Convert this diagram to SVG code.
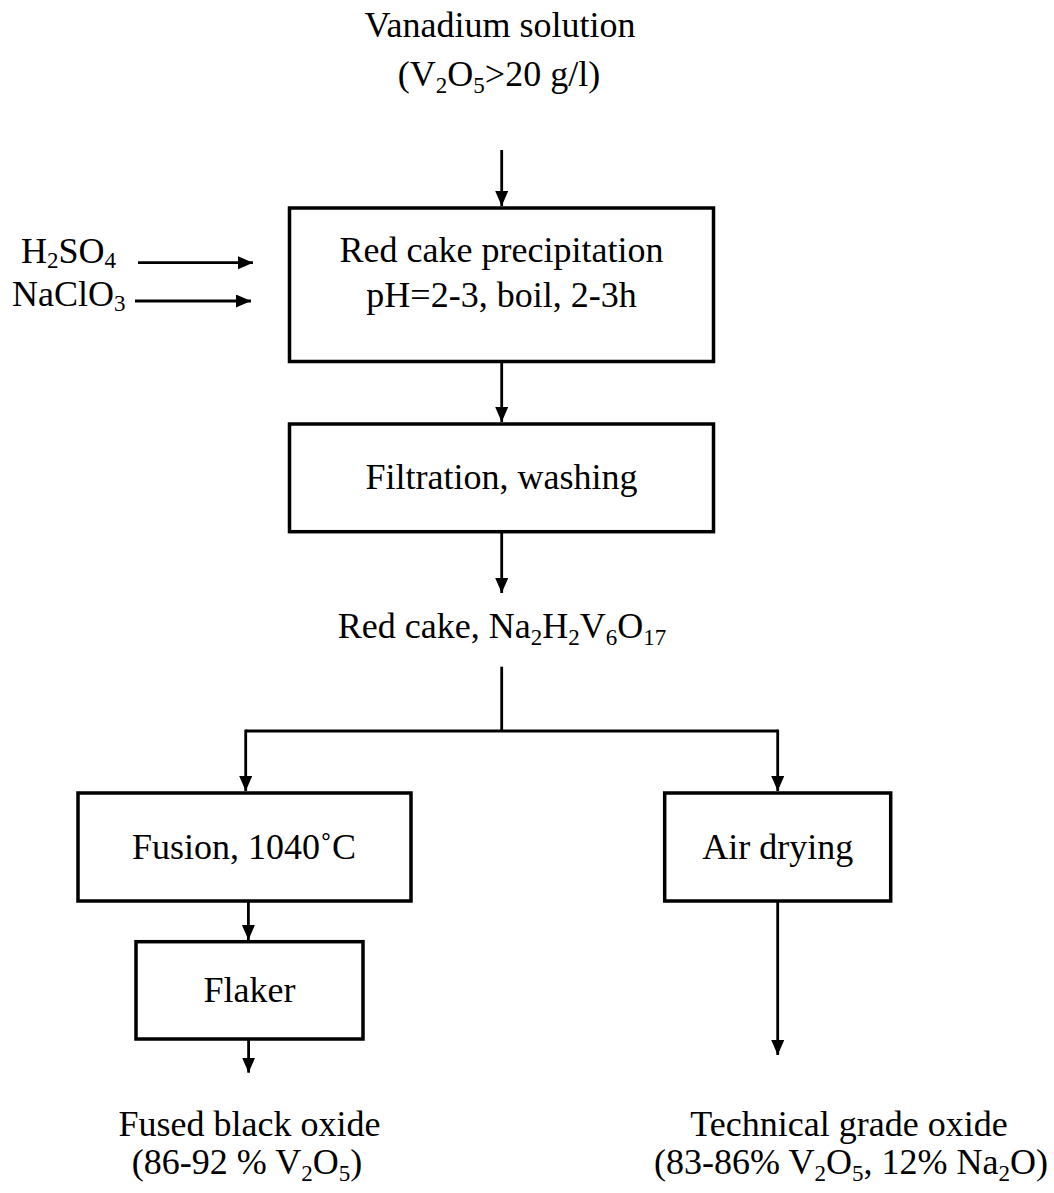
<svg xmlns="http://www.w3.org/2000/svg" width="1054" height="1193" viewBox="0 0 1054 1193">
  <style>
    text { font-family: "Liberation Serif", "Times New Roman", serif; font-size: 36px; fill: #000; }
    .c { text-anchor: middle; }
    .sub { font-size: 23px; }
    .box { fill: #fff; stroke: #000; stroke-width: 3.5; }
    .wire { fill: none; stroke: #000; stroke-width: 2.8; }
  </style>
  <defs>
    <marker id="head" markerUnits="userSpaceOnUse" markerWidth="16" markerHeight="14" refX="15" refY="6.5" orient="auto">
      <path d="M0,0 L15,6.5 L0,13 z" fill="#000"/>
    </marker>
  </defs>

  <!-- feed solution -->
  <g id="feed">
    <text class="c" x="500" y="37">Vanadium solution</text>
    <text class="c" x="499" y="86">(V<tspan class="sub" dy="7">2</tspan><tspan dy="-7">O</tspan><tspan class="sub" dy="7">5</tspan><tspan dy="-7">&gt;20 g/l)</tspan></text>
  </g>

  <!-- reagents -->
  <g id="reagents">
    <text x="21" y="263">H<tspan class="sub" dy="5">2</tspan><tspan dy="-5">SO</tspan><tspan class="sub" dy="5">4</tspan></text>
    <text x="12" y="306">NaClO<tspan class="sub" dy="5">3</tspan></text>
  </g>

  <g id="precipitation">
    <rect class="box" x="289.5" y="208" width="424" height="153.5"/>
    <text class="c" x="501.5" y="262">Red cake precipitation</text>
    <text class="c" x="501.5" y="307">pH=2-3, boil, 2-3h</text>
  </g>

  <g id="filtration">
    <rect class="box" x="289.5" y="424" width="424" height="107.7"/>
    <text class="c" x="501.5" y="489">Filtration, washing</text>
  </g>

  <g id="red-cake">
    <text class="c" x="502" y="638">Red cake, Na<tspan class="sub" dy="7">2</tspan><tspan dy="-7">H</tspan><tspan class="sub" dy="7">2</tspan><tspan dy="-7">V</tspan><tspan class="sub" dy="7">6</tspan><tspan dy="-7">O</tspan><tspan class="sub" dy="7">17</tspan></text>
  </g>

  <g id="fusion">
    <rect class="box" x="78" y="793" width="333" height="108"/>
    <text class="c" x="244" y="859">Fusion, 1040˚C</text>
  </g>

  <g id="air-drying">
    <rect class="box" x="664.7" y="793" width="226" height="108"/>
    <text class="c" x="777.7" y="859">Air drying</text>
  </g>

  <g id="flaker">
    <rect class="box" x="136" y="941.7" width="227" height="97.3"/>
    <text class="c" x="249.5" y="1002">Flaker</text>
  </g>

  <g id="black-oxide">
    <text class="c" x="249.5" y="1136">Fused black oxide</text>
    <text class="c" x="247" y="1174">(86-92 % V<tspan class="sub" dy="7">2</tspan><tspan dy="-7">O</tspan><tspan class="sub" dy="7">5</tspan><tspan dy="-7">)</tspan></text>
  </g>

  <g id="technical-oxide">
    <text class="c" x="849" y="1136">Technical grade oxide</text>
    <text class="c" x="851" y="1174">(83-86% V<tspan class="sub" dy="7">2</tspan><tspan dy="-7">O</tspan><tspan class="sub" dy="7">5</tspan><tspan dy="-7">, 12% Na</tspan><tspan class="sub" dy="7">2</tspan><tspan dy="-7">O)</tspan></text>
  </g>

  <!-- connectors -->
  <g id="connectors">
    <line class="wire" x1="501.7" y1="150" x2="501.7" y2="206" marker-end="url(#head)"/>
    <line class="wire" x1="138" y1="262.7" x2="253" y2="262.7" marker-end="url(#head)"/>
    <line class="wire" x1="135" y1="301" x2="251" y2="301" marker-end="url(#head)"/>
    <line class="wire" x1="501.7" y1="361.5" x2="501.7" y2="422" marker-end="url(#head)"/>
    <line class="wire" x1="501.7" y1="531.7" x2="501.7" y2="593" marker-end="url(#head)"/>
    <polyline class="wire" points="501.7,666.7 501.7,731"/>
    <polyline class="wire" points="245.7,731 777.7,731"/>
    <line class="wire" x1="245.7" y1="729.6" x2="245.7" y2="791" marker-end="url(#head)"/>
    <line class="wire" x1="777.7" y1="729.6" x2="777.7" y2="791" marker-end="url(#head)"/>
    <line class="wire" x1="248.4" y1="901" x2="248.4" y2="940" marker-end="url(#head)"/>
    <line class="wire" x1="248.6" y1="1039" x2="248.6" y2="1072.7" marker-end="url(#head)"/>
    <line class="wire" x1="777.7" y1="901" x2="777.7" y2="1055" marker-end="url(#head)"/>
  </g>
</svg>
